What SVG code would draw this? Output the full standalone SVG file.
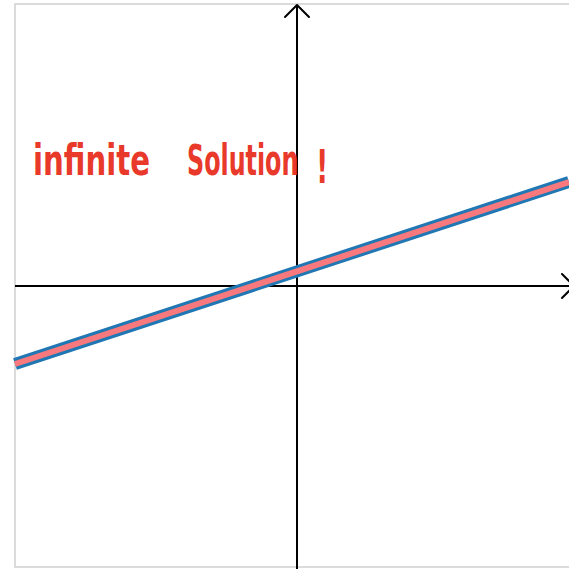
<svg xmlns="http://www.w3.org/2000/svg" width="569" height="569" viewBox="0 0 569 569">
<style>
.axis{stroke:#000;stroke-width:2;fill:none}
.head{stroke:#000;stroke-width:2;fill:none;stroke-linecap:round;stroke-linejoin:round}
.hand{fill:#e8392a;font-family:"DejaVu Sans Condensed","DejaVu Sans",sans-serif;font-weight:600}
</style>
<rect x="0" y="0" width="569" height="569" fill="#fff"/>
<rect x="15" y="4" width="560" height="563" fill="none" stroke="#d0d0d0" stroke-width="1.5"/>
<g id="axes">
<line class="axis" x1="297" y1="5" x2="297" y2="569"/>
<path class="head" d="M285,17 Q293,9 297,5 Q301,9 309,17"/>
<line class="axis" x1="15" y1="286" x2="574" y2="286"/>
<path class="head" d="M562,274 Q570,282 574,286 Q570,290 562,298"/>
</g>
<g id="line">
<line x1="15" y1="364" x2="569" y2="182" stroke="#1f77b4" stroke-width="12"/>
<line x1="15" y1="364" x2="569" y2="182" stroke="#f7797d" stroke-width="6"/>
</g>
<g id="label">
<text class="hand" x="33" y="175" font-size="42" textLength="117" lengthAdjust="spacingAndGlyphs">infinite</text>
<text class="hand" font-size="42" transform="translate(187,175) scale(0.63,1)"><tspan x="0" y="0">Solution</tspan><tspan x="205" y="8" font-size="46">!</tspan></text>
</g>
</svg>
